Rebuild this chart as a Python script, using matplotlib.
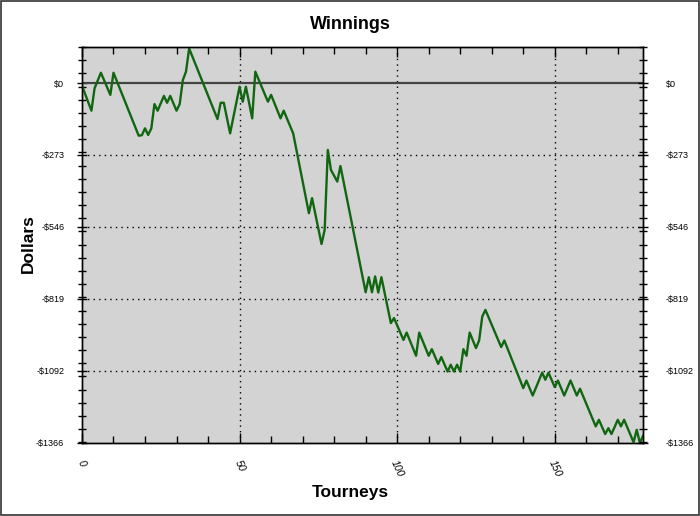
import numpy as np
import matplotlib
matplotlib.use("Agg")
import matplotlib.pyplot as plt
from matplotlib.ticker import FixedLocator

plt.rcParams['font.family'] = ['Liberation Sans', 'DejaVu Sans']

# Vertices of the cumulative winnings line (tourney number, dollars)
tourneys = [0, 3, 4, 6, 9, 10, 18, 19, 20, 21, 22, 23, 24, 26, 27, 28, 30, 31, 32, 33, 34,
            43, 44, 45, 47, 50, 51, 52, 54, 55, 59, 60, 63, 64, 67, 72, 73, 76, 77, 78, 79,
            81, 82, 90, 91, 92, 93, 94, 95, 98, 99, 102, 103, 106, 107, 110, 111, 113, 114,
            116, 117, 118, 119, 120, 121, 122, 123, 125, 126, 127, 128, 133, 134, 140, 141,
            143, 146, 147, 148, 150, 151, 153, 155, 157, 158, 163, 164, 166, 167, 168, 170,
            171, 172, 175, 176, 177, 178]
winnings = [-10, -105, -20, 39, -45, 39, -200, -198, -172, -197, -172, -80, -105, -49, -75, -49,
            -105, -80, 11, 43, 131,
            -137, -75, -75, -191, -14, -71, -14, -134, 43, -71, -45, -134, -105, -191, -494, -437,
            -611, -557, -254, -330,
            -374, -315, -794, -737, -794, -734, -795, -737, -911, -892, -975, -947, -1035, -947,
            -1035, -1010, -1066, -1040,
            -1095, -1069, -1095, -1069, -1095, -1010, -1035, -947, -1006, -977, -886, -861, -1002,
            -977, -1158, -1129,
            -1186, -1099, -1126, -1099, -1154, -1129, -1186, -1129, -1186, -1160, -1303, -1278,
            -1332, -1310, -1332, -1278,
            -1303, -1278, -1363, -1316, -1366, -1339]

y_ticks = [0, -273, -546, -819, -1092, -1366]
y_tick_labels = ['$0', '-$273', '-$546', '-$819', '-$1092', '-$1366']
x_ticks = [0, 50, 100, 150]

title = 'Winnings'
xlabel = 'Tourneys'
ylabel = 'Dollars'

fig = plt.figure(figsize=(7.0, 5.16), dpi=100)
fig.patch.set_facecolor('white')
# outer frame
fig.add_artist(plt.Rectangle((0.001, 0.001), 0.998, 0.997, transform=fig.transFigure,
                             fill=False, edgecolor='#333333', linewidth=1.2))

ax = fig.add_axes([0.1171, 0.1415, 0.8015, 0.7674])
ax.set_facecolor('#d3d3d3')

ymin, ymax = -1366, 136.6
ax.set_xlim(0, 178)
ax.set_ylim(ymin, ymax)

# grid (dotted) at major ticks
for yv in y_ticks[1:-1]:
    ax.axhline(yv, color='black', linestyle=(0, (1, 3)), linewidth=1.0, zorder=1)
for xv in x_ticks[1:]:
    ax.axvline(xv, color='black', linestyle=(0, (1, 3)), linewidth=1.0, zorder=1)
# zero line
ax.axhline(0, color='#444444', linewidth=1.6, zorder=2)

ax.plot(tourneys, winnings, color='#116611', linewidth=1.7, zorder=3)

minor_y = np.arange(ymax, ymin, -50)

ax.yaxis.set_major_locator(FixedLocator(y_ticks))
ax.set_yticklabels(y_tick_labels)
ax.yaxis.set_minor_locator(FixedLocator(minor_y))
ax.xaxis.set_major_locator(FixedLocator(x_ticks))
ax.xaxis.set_minor_locator(FixedLocator(np.arange(0, 178, 10)))
ax.set_xticklabels([str(v) for v in x_ticks], rotation=-65, ha='center', va='top',
                   fontstyle='italic', fontsize=7.5)

ax.tick_params(axis='y', which='both', direction='inout', left=True, right=False,
               labelleft=True, labelright=False, labelsize=6.5, pad=9.5)
ax.tick_params(axis='y', which='major', length=6.5, width=1)
ax.tick_params(axis='y', which='minor', length=5.5, width=1)
ax.tick_params(axis='x', which='both', direction='in', top=True, bottom=True)
ax.tick_params(axis='x', which='major', length=7, width=1, pad=11)
ax.tick_params(axis='x', which='minor', length=5, width=1)

# right axis labels
axr = ax.twinx()
axr.set_ylim(ymin, ymax)
axr.yaxis.set_major_locator(FixedLocator(y_ticks))
axr.set_yticklabels(y_tick_labels)
axr.yaxis.set_minor_locator(FixedLocator(minor_y))
axr.tick_params(axis='y', which='both', direction='inout', right=True, labelright=True,
                labelsize=6.5, pad=13)
axr.tick_params(axis='y', which='major', length=6.5, width=1)
axr.tick_params(axis='y', which='minor', length=5.5, width=1)

for a in (ax, axr):
    for sp in a.spines.values():
        sp.set_color('black')
        sp.set_linewidth(1.0)

fig.text(0.5, 0.953, title, ha='center', va='center', fontsize=13, fontweight='bold')
fig.text(0.5, 0.045, xlabel, ha='center', va='center', fontsize=12.5, fontweight='bold')
fig.text(0.04, 0.528, ylabel, ha='center', va='center', fontsize=12.5, fontweight='bold',
         rotation=90)

fig.savefig('out.png', dpi=100)
